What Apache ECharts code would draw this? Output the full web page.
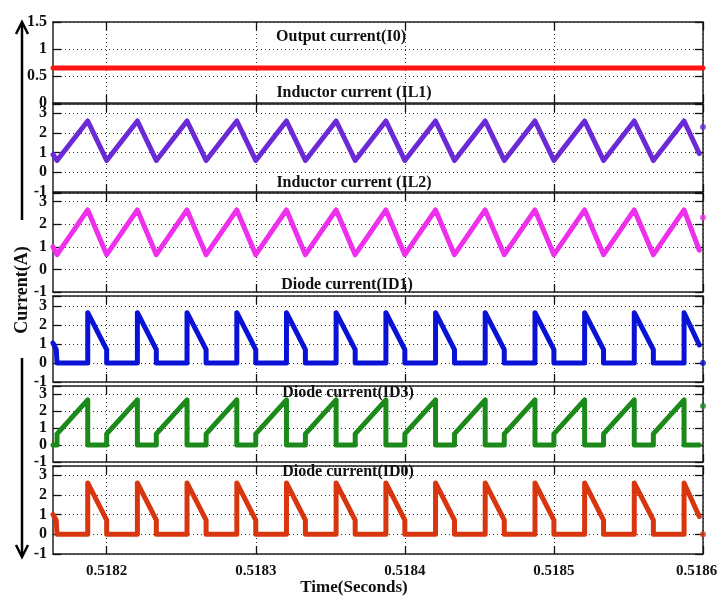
<!DOCTYPE html>
<html><head><meta charset="utf-8">
<script src="https://cdn.jsdelivr.net/npm/echarts@6/dist/echarts.min.js"></script>
<style>html,body{margin:0;padding:0;background:#fff}#c{width:718px;height:599px}</style>
</head><body><div id="c"></div>
<script>
// x values are microseconds after T0_SECONDS
const T0_SECONDS = 0.5181;
const xTickValues = [100, 200, 300, 400, 500];
const xTickLabels = ['0.5182', '0.5183', '0.5184', '0.5185', '0.5186'];
const panelTitles = ['Output current(I0)', 'Inductor current (IL1)', 'Inductor current (IL2)',
                     'Diode current(ID1)', 'Diode current(ID3)', 'Diode current(ID0)'];

// Output current
const tIO = [64, 500];
const vIO = [0.65, 0.65];

// Inductor currents (same switching instants)
const tIL = [64, 66.7, 87.3, 100, 120.6, 133.3, 153.9, 166.7, 187.3, 200, 220.6, 233.3, 253.9, 266.7,
             287.3, 300, 320.6, 333.3, 353.9, 366.7, 387.3, 400, 420.6, 433.3, 453.9, 466.7, 487.3, 497.5];
const vIL1 = [0.9, 0.6, 2.6, 0.6, 2.6, 0.6, 2.6, 0.6, 2.6, 0.6, 2.6, 0.6, 2.6, 0.6,
              2.6, 0.6, 2.6, 0.6, 2.6, 0.6, 2.6, 0.6, 2.6, 0.6, 2.6, 0.6, 2.6, 0.95];
const vIL2 = [1.0, 0.65, 2.63, 0.65, 2.63, 0.65, 2.63, 0.65, 2.63, 0.65, 2.63, 0.65, 2.63, 0.65,
              2.63, 0.65, 2.63, 0.65, 2.63, 0.65, 2.63, 0.65, 2.63, 0.65, 2.63, 0.65, 2.63, 0.85];

// Diode currents ID1 / ID0 (conduct during off interval)
const tD1 = [64, 66.2, 66.7,
  87.3, 87.3, 100, 100,
  120.6, 120.6, 133.3, 133.3,
  153.9, 153.9, 166.7, 166.7,
  187.3, 187.3, 200, 200,
  220.6, 220.6, 233.3, 233.3,
  253.9, 253.9, 266.7, 266.7,
  287.3, 287.3, 300, 300,
  320.6, 320.6, 333.3, 333.3,
  353.9, 353.9, 366.7, 366.7,
  387.3, 387.3, 400, 400,
  420.6, 420.6, 433.3, 433.3,
  453.9, 453.9, 466.7, 466.7,
  487.3, 487.3, 497.5];
const vD1 = [1.05, 0.7, 0,
  0, 2.65, 0.7, 0,
  0, 2.65, 0.7, 0,
  0, 2.65, 0.7, 0,
  0, 2.65, 0.7, 0,
  0, 2.65, 0.7, 0,
  0, 2.65, 0.7, 0,
  0, 2.65, 0.7, 0,
  0, 2.65, 0.7, 0,
  0, 2.65, 0.7, 0,
  0, 2.65, 0.7, 0,
  0, 2.65, 0.7, 0,
  0, 2.65, 0.7, 0,
  0, 2.65, 0.95];
const vD0 = [1.0, 0.7, 0,
  0, 2.6, 0.72, 0,
  0, 2.6, 0.72, 0,
  0, 2.6, 0.72, 0,
  0, 2.6, 0.72, 0,
  0, 2.6, 0.72, 0,
  0, 2.6, 0.72, 0,
  0, 2.6, 0.72, 0,
  0, 2.6, 0.72, 0,
  0, 2.6, 0.72, 0,
  0, 2.6, 0.72, 0,
  0, 2.6, 0.72, 0,
  0, 2.6, 0.72, 0,
  0, 2.6, 0.9];

// Diode current ID3 (conducts during on interval)
const tD3 = [64,
  66.7, 66.7, 87.3, 87.3,
  100, 100, 120.6, 120.6,
  133.3, 133.3, 153.9, 153.9,
  166.7, 166.7, 187.3, 187.3,
  200, 200, 220.6, 220.6,
  233.3, 233.3, 253.9, 253.9,
  266.7, 266.7, 287.3, 287.3,
  300, 300, 320.6, 320.6,
  333.3, 333.3, 353.9, 353.9,
  366.7, 366.7, 387.3, 387.3,
  400, 400, 420.6, 420.6,
  433.3, 433.3, 453.9, 453.9,
  466.7, 466.7, 487.3, 487.3,
  497.5];
const vD3 = [0,
  0, 0.65, 2.65, 0,
  0, 0.65, 2.65, 0,
  0, 0.65, 2.65, 0,
  0, 0.65, 2.65, 0,
  0, 0.65, 2.65, 0,
  0, 0.65, 2.65, 0,
  0, 0.65, 2.65, 0,
  0, 0.65, 2.65, 0,
  0, 0.65, 2.65, 0,
  0, 0.65, 2.65, 0,
  0, 0.65, 2.65, 0,
  0, 0.65, 2.65, 0,
  0, 0.65, 2.65, 0,
  0];

// stray end-of-trace points at the right edge
const endTime = 500;
const endValues = [null, 2.3, 2.3, 0, 2.3, 0];

const FONT = '"Liberation Serif", "Times New Roman", serif';
const pts = (t, v) => t.map((x, i) => [x, v[i]]);

const panels = [
  { top: 22,  height: 81, min: 0,  max: 1.5,  interval: 0.5, color: '#ff1414', data: pts(tIO, vIO) },
  { top: 104, height: 88, min: -1, max: 3.46, interval: 1,   color: '#6c2ad6', data: pts(tIL, vIL1) },
  { top: 193, height: 99, min: -1, max: 3.38, interval: 1,   color: '#ee30ec', data: pts(tIL, vIL2) },
  { top: 296, height: 86, min: -1, max: 3.53, interval: 1,   color: '#0a12d6', data: pts(tD1, vD1) },
  { top: 386, height: 76, min: -1, max: 3.47, interval: 1,   color: '#1b8a1b', data: pts(tD3, vD3) },
  { top: 466, height: 88, min: -1, max: 3.46, interval: 1,   color: '#d8360f', data: pts(tD1, vD0) }
];
const titlePos = [[341, 37], [354, 93], [354, 183], [347, 285], [348, 393], [348, 472]];

const axisLineStyle = { color: '#222', width: 1.5 };
const grid = [], xAxis = [], yAxis = [], series = [];
panels.forEach((p, i) => {
  grid.push({ left: 53, width: 650, top: p.top, height: p.height, show: false, outerBoundsMode: 'none', containLabel: false });
  const xBase = { gridIndex: i, type: 'value', min: 64, max: 500 };
  xAxis.push(Object.assign({}, xBase, {
    position: 'bottom',
    axisLine: { show: true, onZero: false, lineStyle: axisLineStyle },
    axisTick: { show: true, inside: true, length: 8, customValues: xTickValues, lineStyle: { color: '#111', width: 1.3 } },
    axisLabel: {
      show: i === panels.length - 1, margin: 10, color: '#111', fontFamily: FONT, fontWeight: 'bold', fontSize: 15,
      customValues: xTickValues,
      formatter: v => {
        const k = xTickValues.indexOf(Math.round(v));
        if (k < 0) return '';
        return k === xTickValues.length - 1 ? '{last|' + xTickLabels[k] + '}' : xTickLabels[k];
      },
      rich: { last: { fontFamily: FONT, fontWeight: 'bold', fontSize: 15, color: '#111', padding: [0, 13, 0, 0] } }
    },
    splitLine: { show: true, lineStyle: { type: [1, 3], color: '#333', width: 1 } }
  }));
  xAxis.push(Object.assign({}, xBase, {
    position: 'top',
    axisLine: { show: true, onZero: false, lineStyle: axisLineStyle },
    axisTick: { show: true, inside: true, length: 8, customValues: xTickValues, lineStyle: { color: '#111', width: 1.3 } },
    axisLabel: { show: false, customValues: xTickValues }, splitLine: { show: false }
  }));
  const yBase = { gridIndex: i, type: 'value', min: p.min, max: p.max, interval: p.interval };
  yAxis.push(Object.assign({}, yBase, {
    position: 'left',
    axisLine: { show: true, onZero: false, lineStyle: axisLineStyle },
    axisTick: { show: true, inside: true, length: 8, lineStyle: { color: '#111', width: 1.3 } },
    axisLabel: {
      show: true, margin: 6, color: '#111', fontFamily: FONT, fontWeight: 'bold', fontSize: 16,
      formatter: v => {
        const q = v / p.interval;
        return Math.abs(q - Math.round(q)) < 1e-6 ? String(+v.toFixed(2)) : '';
      }
    },
    splitLine: { show: true, lineStyle: { type: [1, 3], color: '#333', width: 1 } }
  }));
  yAxis.push(Object.assign({}, yBase, {
    position: 'right',
    axisLine: { show: true, onZero: false, lineStyle: axisLineStyle },
    axisTick: { show: true, inside: true, length: 8, lineStyle: { color: '#111', width: 1.3 } },
    axisLabel: { show: false }, splitLine: { show: false }
  }));
  series.push({
    type: 'line', xAxisIndex: 2 * i, yAxisIndex: 2 * i, data: p.data,
    showSymbol: false, symbol: 'none', clip: true,
    lineStyle: { color: p.color, width: 5, join: 'round', cap: 'round' }
  });
  if (endValues[i] !== null) {
    series.push({
      type: 'scatter', xAxisIndex: 2 * i, yAxisIndex: 2 * i, data: [[endTime, endValues[i]]],
      symbol: 'circle', symbolSize: 6, itemStyle: { color: p.color }, clip: false
    });
  }
});

const textStyle = (s, size) => ({ text: s, font: 'bold ' + size + 'px ' + FONT, fill: '#111',
  textAlign: 'center', textVerticalAlign: 'middle' });
const graphic = panelTitles.map((s, i) => ({
  type: 'text', x: titlePos[i][0], y: titlePos[i][1], z: 100, style: textStyle(s, 16)
}));
graphic.push({ type: 'text', x: 354, y: 588, style: textStyle('Time(Seconds)', 17) });
graphic.push({ type: 'text', x: 22, y: 290, rotation: Math.PI / 2, style: textStyle('Current(A)', 18) });
const arrowStyle = { stroke: '#000', lineWidth: 2.5, fill: null };
graphic.push({ type: 'polyline', shape: { points: [[22, 220], [22, 23]] }, style: arrowStyle });
graphic.push({ type: 'polyline', shape: { points: [[16, 34], [22, 22], [28, 34]] }, style: arrowStyle });
graphic.push({ type: 'polyline', shape: { points: [[22, 358], [22, 556]] }, style: arrowStyle });
graphic.push({ type: 'polyline', shape: { points: [[16, 545], [22, 557], [28, 545]] }, style: arrowStyle });

const chart = echarts.init(document.getElementById('c'), null, { renderer: 'canvas' });
chart.setOption({
  backgroundColor: '#fff', animation: false,
  grid, xAxis, yAxis, series, graphic
});
</script></body></html>
